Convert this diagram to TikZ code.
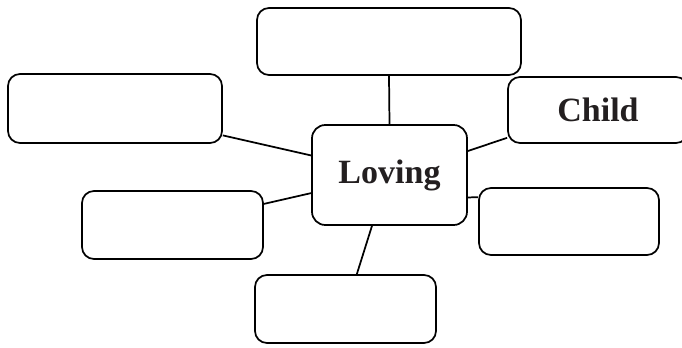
\documentclass[tikz,border=0pt]{standalone}
\usepackage{fontspec}
\setmainfont{Liberation Serif}
\usepackage{tikz}
\usepackage{xcolor}
\definecolor{mytext}{HTML}{231F20}

\begin{document}
\begin{tikzpicture}[x=0.75pt, y=-0.75pt,
    box/.style={rectangle, rounded corners=9pt, draw=black, line width=1.3pt, fill=white, inner sep=0pt},
    word/.style={font=\fontsize{25.5}{30}\selectfont\bfseries, text=mytext}]
    \useasboundingbox (0, 0) rectangle (682, 347);
    \clip (0, 0) rectangle (682, 347);
    \node[box, word, minimum width=116.25pt, minimum height=75pt, rounded corners=10pt] (1) at (389.5, 175) {\raisebox{-2.5pt}{Loving}};
    \node[box, minimum width=198pt, minimum height=50.25pt] (2) at (389, 41.5) {};
    \node[box, minimum width=160.5pt, minimum height=51.75pt] (3) at (115, 108.5) {};
    \node[box, word, minimum width=135pt, minimum height=49.5pt] (4) at (598, 110) {Child};
    \node[box, minimum width=135.75pt, minimum height=51pt] (5) at (172.5, 225) {};
    \node[box, minimum width=135pt, minimum height=50.25pt] (6) at (569, 221.5) {};
    \node[box, minimum width=135.75pt, minimum height=51pt] (7) at (345.5, 309) {};
    \draw[line width=1.3pt] (1.north) -- (2.south);
    \draw[line width=1.3pt] (1.166.9) -- (3.346);
    \draw[line width=1.3pt] (1.17.9) -- (4.197.5);
    \draw[line width=1.3pt] (1.193.8) -- (5.13.1);
    \draw[line width=1.3pt] (1.344.8) -- (6.165.4);
    \draw[line width=1.3pt] (1.251) -- (7.72.3);
\end{tikzpicture}
\end{document}
